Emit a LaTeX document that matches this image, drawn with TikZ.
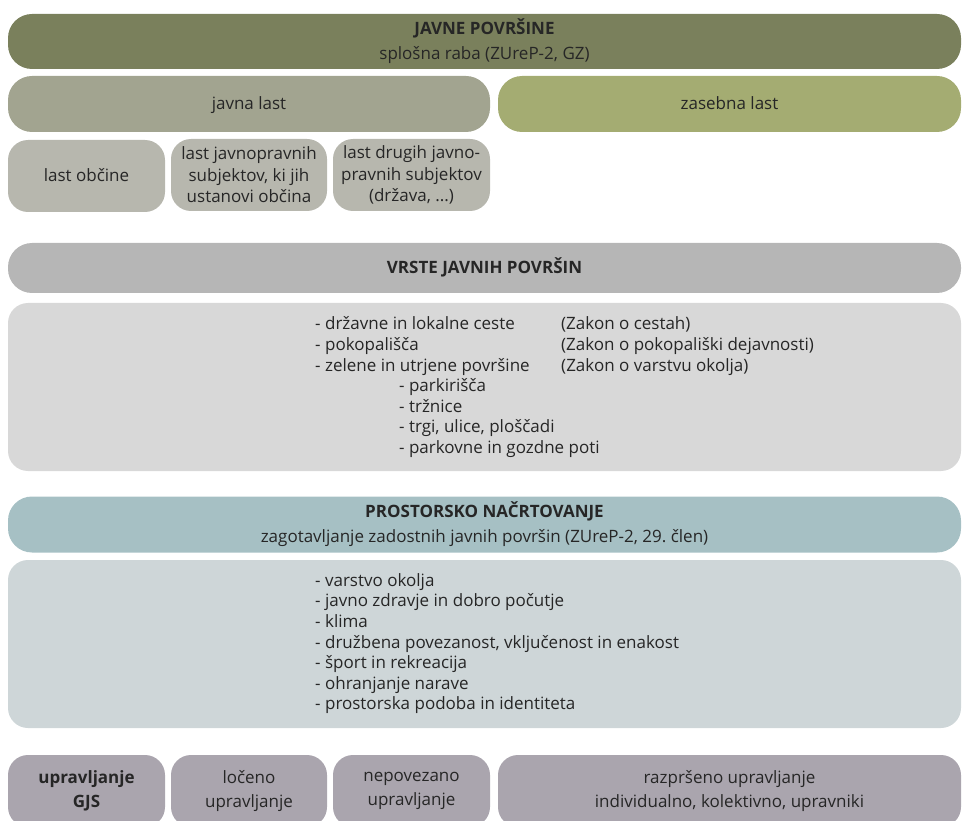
\documentclass[tikz,border=0pt]{standalone}
\usepackage{fontspec}
\setmainfont{Open Sans}

\definecolor{jpgreen}{HTML}{7A805C}
\definecolor{javnagray}{HTML}{A2A490}
\definecolor{zasebnagreen}{HTML}{A4AC72}
\definecolor{lastgray}{HTML}{B7B7AE}
\definecolor{vrstegray}{HTML}{B6B6B6}
\definecolor{listgray}{HTML}{D8D8D8}
\definecolor{pnblue}{HTML}{A6C0C4}
\definecolor{pnlight}{HTML}{CED6D8}
\definecolor{upgray}{HTML}{AAA5AE}
\definecolor{txtgray}{HTML}{262626}

\begin{document}
\begin{tikzpicture}[x=1pt,y=-1pt]

\tikzset{
  panel/.style={
    rounded corners=20pt,
    inner sep=0pt,
    align=center,
    text=txtgray,
    font=\fontsize{17}{20.6}\selectfont,
  },
  bar/.style={
    panel,
    rounded corners=24pt,
    minimum width=953pt,
  },
  oneline/.style={
    text height=15pt,
    text depth=3.8pt,
  },
  listtext/.style={
    inner sep=0pt,
    anchor=west,
    text=txtgray,
    font=\fontsize{17}{20.6}\selectfont,
  }
}

\useasboundingbox (0,0) rectangle (962,821);

% Level 0
\node[bar, fill=jpgreen, minimum height=55pt] (jp) at (484.5,41.5)
  {\textbf{JAVNE POVRŠINE}\\[4.6pt]splošna raba (ZUreP-2, GZ)};

% Level 1
\node[panel, oneline, rounded corners=24pt, fill=javnagray, minimum width=482pt, minimum height=56pt] (javna) at (249,104) {javna last};
\node[panel, oneline, rounded corners=24pt, fill=zasebnagreen, minimum width=463pt, minimum height=56pt] (zasebna) at (729.5,104) {zasebna last};

% Level 2
\node[panel, oneline, fill=lastgray, minimum width=157pt, minimum height=72pt] (obcina) at (86.5,176) {last občine};
\node[panel, fill=lastgray, minimum width=156pt, minimum height=72pt] (subjekti) at (249,175)
  {last javnopravnih\\[0.8pt]subjektov, ki jih\\[0.8pt]ustanovi občina};
\node[panel, fill=lastgray, minimum width=157pt, minimum height=72pt] (drugi) at (411.5,175)
  {last drugih javno-\\[0.8pt]pravnih subjektov\\[0.8pt](država, ...)};

% Vrste javnih povrsin
\node[bar, oneline, fill=vrstegray, minimum height=50pt] (vrste) at (484.5,268)
  {\textbf{VRSTE JAVNIH POVRŠIN}};
\node[panel, fill=listgray, minimum width=953pt, minimum height=168pt] (vrstebox) at (484.5,387) {};
\node[listtext] (vrstelist) at (315,387.5) {%
  \begin{tabular}{@{}p{246pt}@{}l@{}}
  - državne in lokalne ceste & (Zakon o cestah)\\
  - pokopališča & (Zakon o pokopališki dejavnosti)\\
  - zelene in utrjene površine & (Zakon o varstvu okolja)\\
  \multicolumn{2}{@{}l@{}}{\hspace*{84pt}- parkirišča}\\
  \multicolumn{2}{@{}l@{}}{\hspace*{84pt}- tržnice}\\
  \multicolumn{2}{@{}l@{}}{\hspace*{84pt}- trgi, ulice, ploščadi}\\
  \multicolumn{2}{@{}l@{}}{\hspace*{84pt}- parkovne in gozdne poti}
  \end{tabular}};

% Prostorsko nacrtovanje
\node[bar, fill=pnblue, minimum height=56pt] (pn) at (484.5,524.5)
  {\textbf{PROSTORSKO NAČRTOVANJE}\\[4.6pt]zagotavljanje zadostnih javnih površin (ZUreP-2, 29.\ člen)};
\node[panel, fill=pnlight, minimum width=953pt, minimum height=168pt] (pnbox) at (484.5,644) {};
\node[listtext] (pnlist) at (315,644) {%
  \begin{tabular}{@{}l@{}}
  - varstvo okolja\\
  - javno zdravje in dobro počutje\\
  - klima\\
  - družbena povezanost, vključenost in enakost\\
  - šport in rekreacija\\
  - ohranjanje narave\\
  - prostorska podoba in identiteta
  \end{tabular}};

% Upravljanje
\node[panel, fill=upgray, minimum width=157pt, minimum height=72pt] (gjs) at (86.5,791)
  {\textbf{upravljanje}\\[3pt]\textbf{GJS}};
\node[panel, fill=upgray, minimum width=156pt, minimum height=72pt] (loceno) at (249,791)
  {ločeno\\[3pt]upravljanje};
\node[panel, fill=upgray, minimum width=157pt, minimum height=72pt] (nepovezano) at (411.5,791)
  {nepovezano\\[3pt]upravljanje};
\node[panel, fill=upgray, minimum width=463pt, minimum height=72pt] (razprseno) at (729.5,791)
  {razpršeno upravljanje\\[3pt]individualno, kolektivno, upravniki};

\end{tikzpicture}
\end{document}
